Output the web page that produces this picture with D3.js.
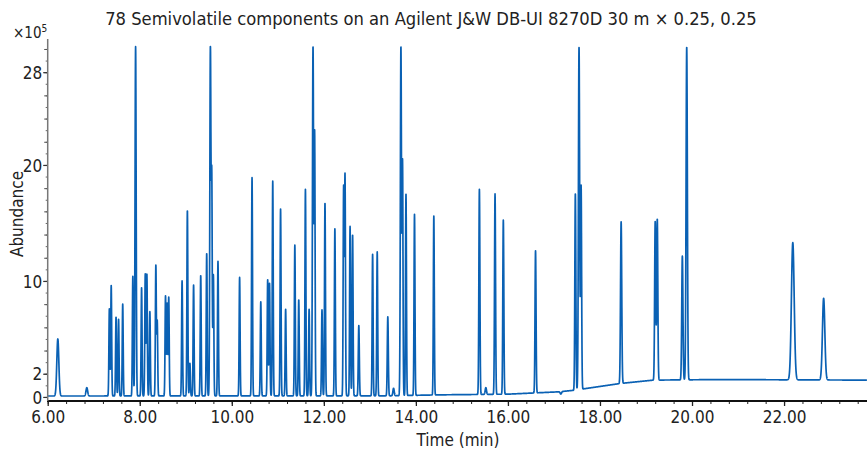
<!DOCTYPE html>
<html>
<head>
<meta charset="utf-8">
<script src="https://cdn.jsdelivr.net/npm/d3@7/dist/d3.min.js"></script>
<style>
  html, body { margin: 0; padding: 0; background: #fff; }
  svg { display: block; }
  text { font-family: 'Liberation Sans Narrow', 'DejaVu Sans Condensed', 'Arial Narrow', sans-serif; fill: #222; }
</style>
</head>
<body>
<svg id="chart" width="867" height="452"></svg>
<script>
// ---------------- DATA ----------------
const titleText = "78 Semivolatile components on an Agilent J&W DB-UI 8270D 30 m × 0.25, 0.25";
const xTickValues = [6, 8, 10, 12, 14, 16, 18, 20, 22];
const xTickLabels = ["6.00", "8.00", "10.00", "12.00", "14.00", "16.00", "18.00", "20.00", "22.00"];
const yTickValues = [0, 2, 10, 20, 28];
const yTickLabels = ["0", "2", "10", "20", "28"];

// retention time (min)
const peakTimes = [
  6.22, 6.85, 7.34, 7.38, 7.485, 7.54, 7.63, 7.85, 7.91, 8.04,
  8.12, 8.155, 8.22, 8.35, 8.38, 8.56, 8.595, 8.63, 8.92, 9.035,
  9.09, 9.17, 9.325, 9.455, 9.535, 9.565, 9.60, 9.70, 10.17, 10.44,
  10.63, 10.78, 10.82, 10.89, 11.06, 11.17, 11.37, 11.455, 11.60, 11.68,
  11.765, 11.80, 11.96, 12.025, 12.24, 12.43, 12.46, 12.57, 12.625, 12.76,
  13.06, 13.16, 13.39, 13.515, 13.675, 13.71, 13.785, 13.97, 14.39, 15.38,
  15.52, 15.72, 15.90, 16.60, 17.15, 17.465, 17.545, 17.59, 18.46, 19.20,
  19.245, 19.79, 19.885, 22.19, 22.86
];
// apex abundance (x10^5); 30.2 = off-scale (clipped) peaks
const peakHeights = [
  5.0, 0.8, 7.6, 9.6, 6.9, 6.7, 8.0, 10.4, 30.2, 9.4,
  10.6, 10.6, 7.35, 11.3, 6.5, 8.7, 8.1, 8.6, 10.0, 16.1,
  2.9, 9.65, 10.5, 12.4, 30.2, 18.4, 10.5, 11.7, 10.3, 18.9,
  8.2, 10.1, 9.8, 18.6, 16.2, 7.55, 13.1, 8.4, 17.9, 7.55,
  30.2, 22.6, 7.5, 16.75, 14.5, 18.05, 19.1, 14.7, 14.0, 6.15,
  12.3, 12.5, 6.9, 0.75, 30.2, 20.1, 17.55, 15.75, 15.6, 17.9,
  0.8, 17.5, 15.25, 12.6, 0.25, 17.55, 30.2, 18.2, 15.1, 15.1,
  15.35, 12.15, 30.2, 13.3, 8.5
];
// peak width (sigma, min)
const peakWidths = [
  0.022, 0.018, 0.010, 0.010, 0.010, 0.010, 0.010, 0.010, 0.012, 0.010,
  0.010, 0.010, 0.010, 0.010, 0.010, 0.010, 0.010, 0.010, 0.010, 0.010,
  0.010, 0.010, 0.010, 0.010, 0.012, 0.010, 0.010, 0.010, 0.010, 0.010,
  0.010, 0.010, 0.010, 0.010, 0.010, 0.010, 0.010, 0.010, 0.010, 0.010,
  0.012, 0.010, 0.010, 0.010, 0.010, 0.010, 0.010, 0.010, 0.010, 0.011,
  0.010, 0.010, 0.011, 0.014, 0.012, 0.010, 0.010, 0.010, 0.010, 0.011,
  0.014, 0.011, 0.011, 0.011, 0.015, 0.011, 0.013, 0.011, 0.013, 0.012,
  0.012, 0.013, 0.014, 0.030, 0.026
];
// baseline drift
const baseTimes  = [6.0, 13.5, 14.5, 16.0, 17.1, 17.45, 17.7, 18.44, 19.16, 20.6, 23.8];
const baseValues = [0.08, 0.1, 0.18, 0.24, 0.44, 0.58, 0.73, 1.16, 1.45, 1.5, 1.45];
const clipValue = 30.2;

// ---------------- CHART ----------------
const svg = d3.select("#chart");
const x = d3.scaleLinear().domain([6, 23.8]).range([47.7, 866.9]);
const y = d3.scaleLinear().domain([-0.35, 30.86]).range([401, 39]);
const baseline = d3.scaleLinear().domain(baseTimes).range(baseValues).clamp(true);

const peaks = peakTimes.map((t, i) => ({ t, h: peakHeights[i], s: peakWidths[i] }));
const grid = d3.range(6.0, 23.8 + 1e-9, 0.002);
const trace = grid.map(t => {
  let v = baseline(t);
  for (const p of peaks) {
    const d = t - p.t;
    if (Math.abs(d) < 8 * p.s) {
      v += (p.h - baseline(p.t)) * Math.exp(-(d * d) / (2 * p.s * p.s));
    }
  }
  return [t, Math.min(v, clipValue)];
});

// trace
svg.append("path")
  .datum(trace)
  .attr("fill", "none")
  .attr("stroke", "#0a61b4")
  .attr("stroke-width", 1.7)
  .attr("stroke-linejoin", "round")
  .attr("d", d3.line().x(d => x(d[0])).y(d => y(d[1])));

// x axis
const xAxisG = svg.append("g").attr("transform", "translate(0,401)");
xAxisG.call(d3.axisBottom(x).tickValues(d3.range(6, 23.81, 0.4)).tickSize(3).tickFormat(""))
  .call(g => g.select(".domain").remove())
  .call(g => g.selectAll("line").attr("stroke", "#222").attr("stroke-width", 1));
xAxisG.append("g")
  .call(d3.axisBottom(x).tickValues(xTickValues).tickSize(5).tickFormat((d, i) => xTickLabels[i]))
  .call(g => g.select(".domain").remove())
  .call(g => g.selectAll("line").attr("stroke", "#222").attr("stroke-width", 1.3))
  .call(g => g.selectAll("text").attr("font-size", 17).attr("fill", "#222")
      .attr("font-family", "'Liberation Sans Narrow', 'DejaVu Sans Condensed', sans-serif").attr("dy", null).attr("y", 22));
xAxisG.append("line").attr("x1", 47).attr("x2", 867).attr("y1", 0).attr("y2", 0)
  .attr("stroke", "#111").attr("stroke-width", 1.8);

// y axis
const yAxisG = svg.append("g").attr("transform", "translate(47.7,0)");
yAxisG.append("g")
  .call(d3.axisLeft(y).tickValues(d3.range(0, 30.5, 1)).tickSize(2).tickFormat(""))
  .call(g => g.select(".domain").remove())
  .call(g => g.selectAll("line").attr("stroke", "#666"));
yAxisG.append("g")
  .call(d3.axisLeft(y).tickValues(d3.range(0, 30.5, 2)).tickSize(3.5).tickFormat(""))
  .call(g => g.select(".domain").remove())
  .call(g => g.selectAll("line").attr("stroke", "#555"));
yAxisG.append("g")
  .call(d3.axisLeft(y).tickValues(yTickValues).tickSize(4.5).tickPadding(1).tickFormat((d, i) => yTickLabels[i]))
  .call(g => g.select(".domain").remove())
  .call(g => g.selectAll("line").attr("stroke", "#333").attr("stroke-width", 1.2))
  .call(g => g.selectAll("text").attr("font-size", 17).attr("fill", "#222")
      .attr("font-family", "'Liberation Sans Narrow', 'DejaVu Sans Condensed', sans-serif").attr("dy", "0.36em"));
yAxisG.append("line").attr("x1", 0).attr("x2", 0).attr("y1", 39).attr("y2", 401)
  .attr("stroke", "#777").attr("stroke-width", 1.5);

// title
const title = svg.append("text").attr("x", 431).attr("y", 25).attr("text-anchor", "middle")
  .attr("font-size", 20).text(titleText);
const tw = title.node().getComputedTextLength();
if (tw > 0) title.attr("font-size", 20 * 652 / tw);

// multiplier
const mult = svg.append("text").attr("x", 13).attr("y", 38).attr("font-size", 15);
mult.append("tspan").text("×10");
mult.append("tspan").attr("font-size", 10).attr("dy", -6).text("5");

// axis titles
svg.append("text").attr("x", 458).attr("y", 446).attr("text-anchor", "middle")
  .attr("font-size", 17).text("Time (min)");
svg.append("text").attr("transform", "translate(23,214) rotate(-90)").attr("text-anchor", "middle")
  .attr("font-size", 17).text("Abundance");
</script>
</body>
</html>
